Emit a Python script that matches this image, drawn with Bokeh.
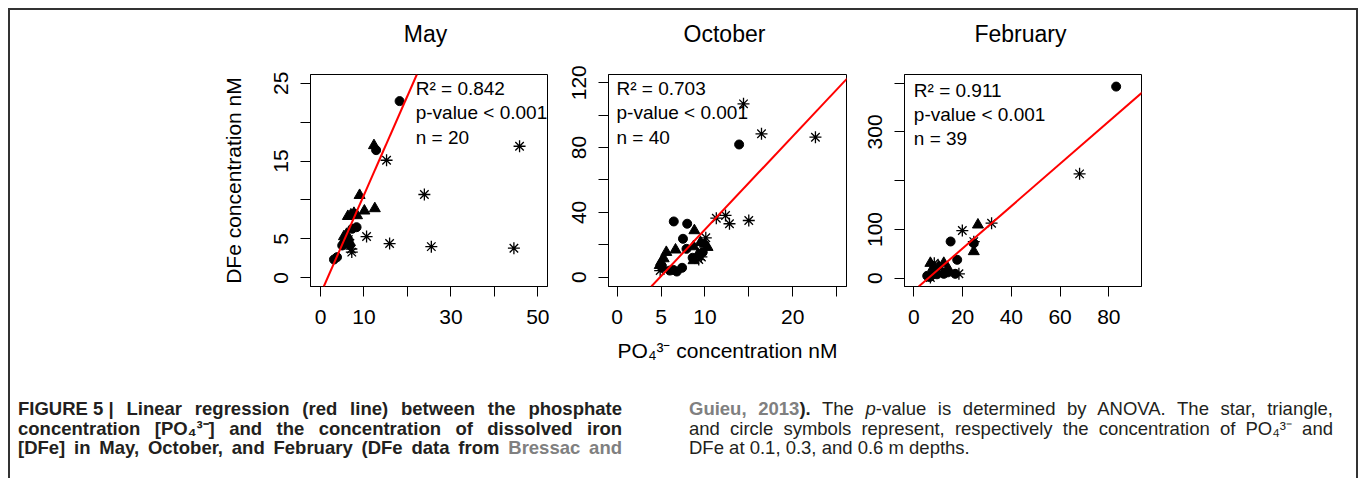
from bokeh.plotting import figure
from bokeh.models import Label, Slope, FixedTicker, Spacer, Div, Range1d
from bokeh.layouts import row, column
from bokeh.embed import file_html
from bokeh.resources import INLINE

FONT = "Liberation Sans"

# ---------------- data ----------------
titles = ["May", "October", "February"]

may_star_x = [15.2, 45.8, 23.9, 10.6, 15.9, 25.5, 44.5, 7.1, 7.2, 6.4]
may_star_y = [15.1, 16.9, 10.7, 5.3, 4.4, 4.0, 3.8, 3.7, 3.3, 4.9]
may_tri_x = [12.3, 9.0, 12.5, 10.1, 6.3, 7.7, 8.4, 7.0, 5.4, 6.0]
may_tri_y = [17.0, 10.6, 8.9, 8.6, 7.9, 8.3, 8.0, 8.1, 5.3, 5.6]
may_cir_x = [18.2, 12.8, 7.3, 8.3, 5.4, 5.0, 6.5, 3.1, 3.8, 6.8]
may_cir_y = [22.7, 16.4, 6.3, 6.5, 4.45, 4.15, 4.8, 2.35, 2.65, 4.2]

oct_star_x = [14.4, 16.45, 22.6, 11.3, 12.35, 12.8, 15.0, 10.1, 9.3, 4.9, 9.6]
oct_star_y = [107, 88.5, 86.4, 36.4, 38.1, 33, 35, 24.3, 10.9, 4.1, 12.5]
oct_tri_x = [8.8, 5.6, 6.65, 8.7, 10.3, 8.7, 5.0, 4.85, 9.2, 10.0, 9.5, 5.3]
oct_tri_y = [28.8, 15.4, 16.9, 18.9, 18.5, 10.3, 9.3, 7.3, 14.0, 20.5, 21.5, 11.5]
oct_cir_x = [13.9, 6.45, 7.98, 7.5, 7.9, 9.75, 6.0, 6.4, 7.4, 5.1, 8.6, 6.8]
oct_cir_y = [81.9, 34.4, 33, 23.7, 17.5, 15.4, 4.1, 4.5, 5.8, 6.1, 12.0, 3.5]

feb_star_x = [68.0, 31.9, 19.9, 24.6, 18.5, 8.4, 6.8, 10.5]
feb_star_y = [214, 112.8, 97.8, 75, 9.0, 30.8, 1.4, 20]
feb_tri_x = [26.3, 24.6, 6.8, 12.3, 10.2, 8.0, 14.0]
feb_tri_y = [109.5, 54.8, 30.8, 30.8, 24, 22, 20]
feb_cir_x = [83.0, 15.1, 24.6, 17.8, 17.0, 12.3, 5.5, 7.5, 9.5, 14.0, 6.5]
feb_cir_y = [393, 75.3, 71.8, 37.7, 9, 9, 4.9, 6.8, 8, 12, 2.5]

slopes = [1.272, 5.75, 4.34]
intercepts = [-2.08, -28.1, -25.7]
r2_values = ["0.842", "0.703", "0.911"]
n_values = [20, 40, 39]

x_ticks = [[0, 10, 20, 30, 40, 50], [0, 5, 10, 15, 20, 25], [0, 20, 40, 60, 80]]
x_labels = [["0", "10", "", "30", "", "50"], ["0", "5", "10", "", "20", ""], ["0", "20", "40", "60", "80"]]
y_ticks = [[0, 5, 10, 15, 20, 25], [0, 20, 40, 60, 80, 100, 120], [0, 100, 200, 300, 400]]
y_labels = [["0", "5", "", "15", "", "25"], ["0", "", "40", "", "80", "", "120"], ["0", "100", "", "300", ""]]

# layout constants
x_ranges = [(-2.30, 52.23), (-0.99, 26.14), (-3.82, 93.4)]
y_ranges = [(-1.12, 26.12), (-5.74, 125.1), (-17.0, 417.8)]
borders = [(300, 8), (53, 9), (49, 215)]   # left, right
frame_w = [237, 238, 237]
INNER_W = 1346
TITLE_H = 46
tops = [18, 18, 17]
title_cx = [415, 714, 1010]    # title centres, px from the left of the inner area
stat_pos = [(21.9, [24.3, 21.2, 18.0]), (-0.08, [116.3, 101.6, 86.4]), (0.0, [384.4, 335.2, 286.0])]

series = [
    (may_star_x, may_star_y, may_tri_x, may_tri_y, may_cir_x, may_cir_y),
    (oct_star_x, oct_star_y, oct_tri_x, oct_tri_y, oct_cir_x, oct_cir_y),
    (feb_star_x, feb_star_y, feb_tri_x, feb_tri_y, feb_cir_x, feb_cir_y),
]

FIG_H = 316
FRAME_H = 212

# title strip across the full width
strip = figure(output_backend="svg", toolbar_location=None,
               frame_width=INNER_W, frame_height=TITLE_H, min_border=0,
               x_range=Range1d(0, INNER_W), y_range=Range1d(0, TITLE_H),
               x_axis_type=None, y_axis_type=None, outline_line_color=None,
               background_fill_color="white", border_fill_color="white")
strip.grid.visible = False
for i in range(3):
    strip.add_layout(Label(x=title_cx[i], y=TITLE_H - 23, text=titles[i], text_font=FONT,
                           text_font_size="23px", text_align="center", text_baseline="middle",
                           text_color="black"))

figs = []
for i in range(3):
    sx, sy, tx, ty, cx, cy = series[i]
    x0, x1 = x_ranges[i]
    y0, y1 = y_ranges[i]

    p = figure(output_backend="svg", toolbar_location=None,
               frame_width=frame_w[i], frame_height=FRAME_H,
               min_border_left=borders[i][0], min_border_right=borders[i][1],
               min_border_top=tops[i], min_border_bottom=FIG_H - tops[i] - FRAME_H,
               x_range=Range1d(x0, x1), y_range=Range1d(y0, y1),
               background_fill_color="white", border_fill_color="white")
    p.xgrid.visible = False
    p.ygrid.visible = False
    p.outline_line_color = "black"
    p.outline_line_width = 1
    p.outline_line_alpha = 1

    for ax in (p.xaxis[0], p.yaxis[0]):
        ax.axis_line_color = "black"
        ax.major_tick_line_color = "black"
        ax.major_tick_out = 10
        ax.major_tick_in = 0
        ax.minor_tick_out = 0
        ax.minor_tick_in = 0
        ax.major_label_text_font = FONT
        ax.major_label_text_font_size = "21px"
        ax.major_label_text_color = "black"
        ax.axis_label_text_font = FONT
        ax.axis_label_text_font_size = "21px"
        ax.axis_label_text_font_style = "normal"
        ax.axis_label_text_color = "black"
    p.xaxis.ticker = FixedTicker(ticks=x_ticks[i])
    p.xaxis.major_label_overrides = {tk: lb for tk, lb in zip(x_ticks[i], x_labels[i])}
    p.yaxis.ticker = FixedTicker(ticks=y_ticks[i])
    p.yaxis.major_label_overrides = {tk: lb for tk, lb in zip(y_ticks[i], y_labels[i])}
    p.xaxis.major_label_standoff = 13
    p.yaxis.major_label_standoff = 12
    p.yaxis.major_label_orientation = "vertical"

    if i == 0:
        p.yaxis.axis_label = "DFe concentration nM"
        p.yaxis.axis_label_standoff = 27
    if i == 1:
        p.xaxis.axis_label = "PO\u2084\u00b3\u207b concentration nM"
        p.xaxis.axis_label_standoff = 12

    p.scatter(sx, sy, marker="asterisk", size=12, line_color="black", line_width=1.3)
    p.scatter(tx, ty, marker="triangle", size=11, fill_color="black", line_color="black")
    p.scatter(cx, cy, marker="circle", size=9, fill_color="black", line_color="black")

    p.add_layout(Slope(gradient=slopes[i], y_intercept=intercepts[i], line_color="red", line_width=2))

    lx, lys = stat_pos[i]
    texts = ["R\u00b2 = " + r2_values[i], "p-value < 0.001", "n = " + str(n_values[i])]
    for tx_, ly in zip(texts, lys):
        p.add_layout(Label(x=lx, y=ly, text=tx_, text_font=FONT, text_font_size="19px",
                           text_baseline="middle", text_align="left", text_color="black"))
    figs.append(p)

gray = "#808080"
line_css = "height:19.5px;text-align:justify;text-align-last:justify;"
po4 = "PO\u2084\u00b3\u207b"
caption_html = f'''
<div style="position:relative;width:1346px;height:106px;font-family:'Liberation Sans',Arial,sans-serif;
color:#231f20;font-size:18.5px;line-height:19.5px;">
 <div style="position:absolute;left:8px;top:27px;width:604px;font-weight:bold;">
  <div style="{line_css}"><span style="display:inline-block">FIGURE 5 | </span> Linear regression (red line) between the phosphate</div>
  <div style="{line_css}">concentration [{po4}] and the concentration of dissolved iron</div>
  <div style="{line_css}">[DFe] in May, October, and February (DFe data from <span style="color:{gray}">Bressac and</span></div>
 </div>
 <div style="position:absolute;left:679px;top:27px;width:644px;">
  <div style="{line_css}"><b style="color:{gray}">Guieu, 2013</b><b>).</b> The <i>p</i>-value is determined by ANOVA. The star, triangle,</div>
  <div style="{line_css}">and circle symbols represent, respectively the concentration of {po4} and</div>
  <div style="height:19.5px;text-align:left;">DFe at 0.1, 0.3, and 0.6 m depths.</div>
 </div>
</div>
'''
caption = Div(text=caption_html, width=1346, height=106, margin=0)

BORDER = "#333333"
top_bar = Spacer(width=1350, height=2, styles={"background-color": BORDER})
left_bar = Spacer(width=2, height=468, styles={"background-color": BORDER})
right_bar = Spacer(width=2, height=468, styles={"background-color": BORDER})

inner = column(strip, row(*figs, spacing=0), caption, spacing=0)
framed = column(top_bar, row(left_bar, inner, right_bar, spacing=0), spacing=0)
layout = column(Spacer(width=1358, height=8),
                row(Spacer(width=8, height=470), framed, spacing=0), spacing=0)

open("out.html", "w").write(file_html(layout, INLINE, "Figure 5"))
